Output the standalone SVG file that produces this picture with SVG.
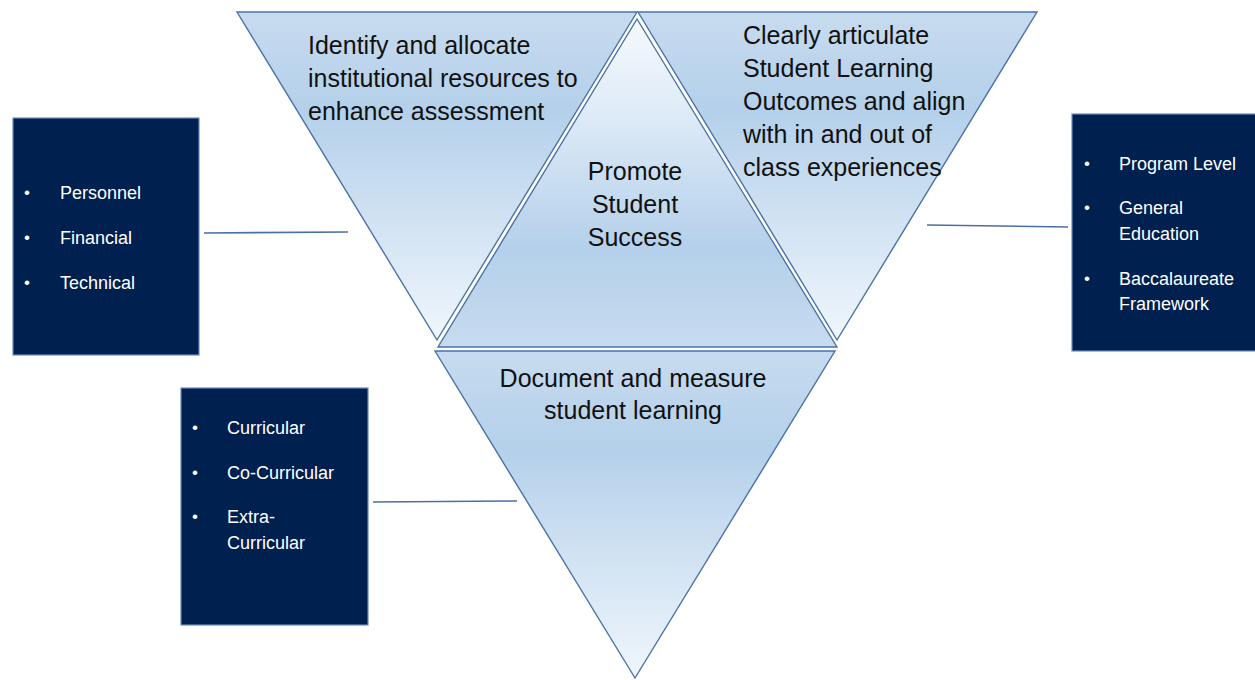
<svg xmlns="http://www.w3.org/2000/svg" width="1255" height="680" viewBox="0 0 1255 680">
<defs>
<linearGradient id="gDown" x1="0" y1="0" x2="0" y2="1">
<stop offset="0" stop-color="#c7dbef"/>
<stop offset="0.3" stop-color="#b4d0ea"/>
<stop offset="1" stop-color="#f0f6fc"/>
</linearGradient>
<linearGradient id="gUp" x1="0" y1="0" x2="0" y2="1">
<stop offset="0" stop-color="#f5f9fd"/>
<stop offset="0.25" stop-color="#e2edf8"/>
<stop offset="0.7" stop-color="#b4d0ea"/>
<stop offset="1" stop-color="#c7dbef"/>
</linearGradient>
<style>
.tri{stroke:#4a72a8;stroke-width:1.4;stroke-linejoin:miter}
.box{fill:#00204f;stroke:#6a8cc0;stroke-width:1.2}
.conn{stroke:#4a6fa5;stroke-width:1.6;fill:none}
.t{font-family:"Liberation Sans",Arial,sans-serif;font-size:25px;fill:#111111}
.b{font-family:"Liberation Sans",Arial,sans-serif;font-size:18px;fill:#ffffff}
.dot{font-family:"Liberation Sans",Arial,sans-serif;font-size:17px;fill:#ffffff}
</style>
</defs>
<rect width="1255" height="680" fill="#ffffff"/>
<g id="connectors">
<line class="conn" x1="204" y1="233" x2="348" y2="232"/>
<line class="conn" x1="927" y1="225" x2="1068" y2="227"/>
<line class="conn" x1="373" y1="502" x2="517" y2="501"/>
</g>
<g id="node-allocate">
<polygon class="tri" fill="url(#gDown)" points="237,12 637,12 437,340"/>
<text class="t"><tspan x="308" y="54">Identify and allocate</tspan><tspan x="308" y="87">institutional resources to</tspan><tspan x="308" y="120">enhance assessment</tspan></text>
</g>
<g id="node-articulate">
<polygon class="tri" fill="url(#gDown)" points="638,12 1037,12 837,340"/>
<text class="t"><tspan x="743" y="44">Clearly articulate</tspan><tspan x="743" y="77">Student Learning</tspan><tspan x="743" y="110">Outcomes and align</tspan><tspan x="743" y="143">with in and out of</tspan><tspan x="743" y="176">class experiences</tspan></text>
</g>
<g id="node-promote">
<polygon class="tri" fill="url(#gUp)" points="637,19 837,347 438,347"/>
<text class="t" text-anchor="middle"><tspan x="635" y="180">Promote</tspan><tspan x="635" y="213">Student</tspan><tspan x="635" y="246">Success</tspan></text>
</g>
<g id="node-document">
<polygon class="tri" fill="url(#gDown)" points="435,351 835,351 635,678"/>
<text class="t" text-anchor="middle"><tspan x="633" y="387">Document and measure</tspan><tspan x="633" y="419">student learning</tspan></text>
</g>
<g id="node-resources">
<rect class="box" x="13" y="118" width="186" height="237"/>
<text class="dot"><tspan x="24" y="198">•</tspan><tspan x="24" y="243">•</tspan><tspan x="24" y="288">•</tspan></text>
<text class="b"><tspan x="60" y="199">Personnel</tspan><tspan x="60" y="244">Financial</tspan><tspan x="60" y="289">Technical</tspan></text>
</g>
<g id="node-levels">
<rect class="box" x="1072" y="114" width="190" height="237"/>
<text class="dot"><tspan x="1084" y="169">•</tspan><tspan x="1084" y="213">•</tspan><tspan x="1084" y="284">•</tspan></text>
<text class="b"><tspan x="1119" y="170">Program Level</tspan><tspan x="1119" y="214">General</tspan><tspan x="1119" y="240">Education</tspan><tspan x="1119" y="285">Baccalaureate</tspan><tspan x="1119" y="310">Framework</tspan></text>
</g>
<g id="node-curricular">
<rect class="box" x="181" y="388" width="187" height="237"/>
<text class="dot"><tspan x="192" y="433">•</tspan><tspan x="192" y="478">•</tspan><tspan x="192" y="522">•</tspan></text>
<text class="b"><tspan x="227" y="434">Curricular</tspan><tspan x="227" y="479">Co-Curricular</tspan><tspan x="227" y="523">Extra-</tspan><tspan x="227" y="549">Curricular</tspan></text>
</g>
</svg>
